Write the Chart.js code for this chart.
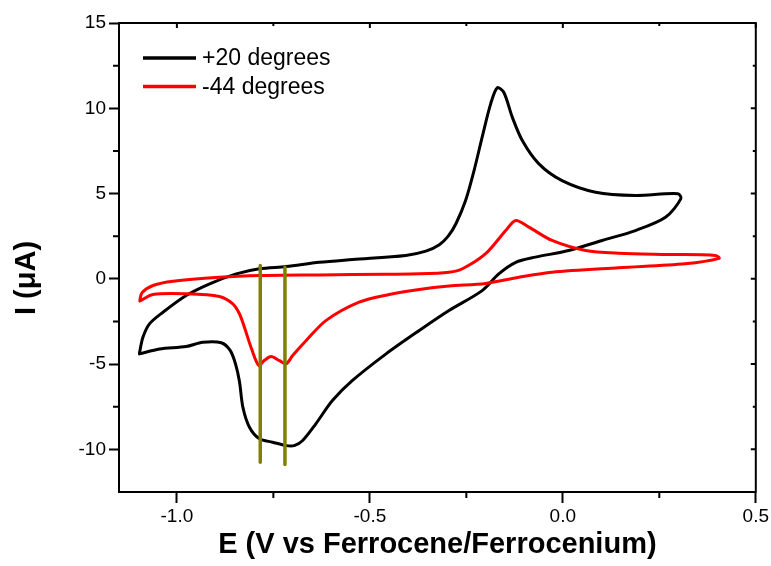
<!DOCTYPE html>
<html>
<head>
<meta charset="utf-8">
<script src="https://cdn.jsdelivr.net/npm/chart.js@4.4.0/dist/chart.umd.min.js"></script>
<style>
  body { margin: 0; background: #fff; }
  canvas { display: block; }
</style>
</head>
<body>
<canvas id="cv" width="771" height="566"></canvas>
<script>
// Values: E (V vs Fc/Fc+) and I (uA), traced around each loop
const blackE = [-1.097, -1.088, -1.071, -1.036, -0.976, -0.915, -0.846, -0.786, -0.717, -0.631, -0.545, -0.407, -0.355,
  -0.320, -0.297, -0.277, -0.252, -0.230, -0.209, -0.187, -0.170, -0.153, -0.131, -0.105, -0.062, -0.002, 0.085, 0.188,
  0.298, 0.306, 0.266, 0.188, 0.102, 0.015, -0.071, -0.122, -0.166, -0.209, -0.295, -0.372, -0.458, -0.545, -0.597,
  -0.640, -0.674, -0.696, -0.717, -0.752, -0.786, -0.812, -0.829, -0.838, -0.848, -0.862, -0.885, -0.933, -0.976, -1.045, -1.097];
const blackI = [-4.35, -3.43, -2.64, -1.96, -0.98, -0.29, 0.29, 0.59, 0.72, 0.97, 1.13, 1.37, 1.62,
  2.00, 2.50, 3.23, 4.59, 6.35, 8.31, 10.26, 11.20, 10.94, 9.48, 8.11, 6.74, 5.76, 5.08, 4.89,
  4.99, 4.70, 3.61, 2.83, 2.25, 1.66, 1.27, 0.97, 0.29, -0.69, -1.86, -3.03, -4.40, -5.96, -7.14,
  -8.50, -9.48, -9.78, -9.78, -9.58, -9.38, -8.70, -7.53, -6.00, -5.00, -4.20, -3.75, -3.72, -3.97, -4.11, -4.40];

const redE = [-1.096, -1.090, -1.062, -1.010, -0.890, -0.786, -0.631, -0.459, -0.372, -0.295, -0.260, -0.200, -0.148,
  -0.122, -0.088, -0.028, 0.059, 0.145, 0.274, 0.395, 0.405, 0.317, 0.145, -0.028, -0.114, -0.200, -0.295, -0.372,
  -0.450, -0.528, -0.614, -0.665, -0.700, -0.717, -0.734, -0.756, -0.773, -0.788, -0.808, -0.825, -0.838, -0.855,
  -0.890, -0.976, -1.062, -1.096];
const redI = [-1.25, -0.80, -0.39, -0.14, 0.09, 0.19, 0.23, 0.27, 0.29, 0.39, 0.59, 1.47, 2.83,
  3.42, 3.03, 2.25, 1.66, 1.50, 1.43, 1.37, 1.20, 0.88, 0.65, 0.39, 0.09, -0.27, -0.42, -0.62,
  -0.92, -1.37, -2.45, -3.62, -4.50, -4.99, -4.80, -4.56, -4.78, -5.08, -4.01, -2.84, -2.05, -1.47,
  -1.04, -0.88, -0.92, -1.30];

// Two vertical marker lines at the reduction peaks
const markE = [-0.784, -0.720];
const markTop = [0.78, 0.68];
const markBottom = [-10.76, -10.89];

const seriesLabels = ['+20 degrees', '-44 degrees'];
const xTicks = [-1.0, -0.5, 0.0, 0.5];
const yTicks = [-10, -5, 0, 5, 10, 15];
const xMinor = [-0.75, -0.25, 0.25];
const yMinor = [-7.5, -2.5, 2.5, 7.5, 12.5];

const FONT = 'Arial, "Liberation Sans", sans-serif';

function toPoints(xs, ys) {
  return xs.map((x, i) => ({ x: x, y: ys[i] }));
}

// Box frame, minor ticks and the inward mirror ticks
const framePlugin = {
  id: 'frame',
  afterDraw(chart) {
    const { ctx, chartArea: a, scales: { x, y } } = chart;
    ctx.save();
    ctx.strokeStyle = '#000';
    ctx.lineWidth = 2;
    ctx.strokeRect(a.left, a.top, a.right - a.left, a.bottom - a.top);
    ctx.beginPath();
    xMinor.forEach(v => {
      const px = x.getPixelForValue(v);
      ctx.moveTo(px, a.bottom); ctx.lineTo(px, a.bottom + 6);
      ctx.moveTo(px, a.top); ctx.lineTo(px, a.top + 3);
    });
    xTicks.forEach(v => {
      const px = x.getPixelForValue(v);
      ctx.moveTo(px, a.top); ctx.lineTo(px, a.top + 5);
    });
    yMinor.forEach(v => {
      const py = y.getPixelForValue(v);
      ctx.moveTo(a.left, py); ctx.lineTo(a.left - 6, py);
      ctx.moveTo(a.right, py); ctx.lineTo(a.right - 3, py);
    });
    yTicks.forEach(v => {
      const py = y.getPixelForValue(v);
      ctx.moveTo(a.right, py); ctx.lineTo(a.right - 5, py);
    });
    ctx.stroke();

    // y axis title, centred on I = 0 like the original
    ctx.fillStyle = '#000';
    ctx.font = 'bold 29px ' + FONT;
    ctx.textAlign = 'center';
    ctx.textBaseline = 'middle';
    ctx.translate(27, 278);
    ctx.rotate(-Math.PI / 2);
    ctx.fillText('I (\u03bcA)', 0, 0);
    ctx.restore();
  }
};

// Legend inside the plot, top-left
const legendPlugin = {
  id: 'insideLegend',
  afterDraw(chart) {
    const ctx = chart.ctx;
    ctx.save();
    ctx.font = '23px ' + FONT;
    ctx.textBaseline = 'middle';
    ctx.fillStyle = '#000';
    ctx.lineWidth = 3.5;
    [0, 1].forEach(i => {
      const ds = chart.data.datasets[i];
      const yy = 58 + i * 28.5;
      ctx.strokeStyle = ds.borderColor;
      ctx.beginPath();
      ctx.moveTo(143, yy); ctx.lineTo(196, yy);
      ctx.stroke();
      ctx.fillText(ds.label, 202, yy + 1);
    });
    ctx.restore();
  }
};

const olive = '#808000';

new Chart(document.getElementById('cv'), {
  type: 'scatter',
  data: {
    datasets: [
      { label: seriesLabels[0], data: toPoints(blackE, blackI), borderColor: '#000', borderWidth: 3, order: 2 },
      { label: seriesLabels[1], data: toPoints(redE, redI), borderColor: '#ff0000', borderWidth: 3, order: 1 },
      { label: 'mark1', data: toPoints([markE[0], markE[0]], [markTop[0], markBottom[0]]), borderColor: olive, borderWidth: 3.5, tension: 0, order: 0 },
      { label: 'mark2', data: toPoints([markE[1], markE[1]], [markTop[1], markBottom[1]]), borderColor: olive, borderWidth: 3.5, tension: 0, order: 0 }
    ]
  },
  options: {
    responsive: false,
    animation: false,
    devicePixelRatio: 1,
    showLine: true,
    elements: {
      point: { radius: 0, hoverRadius: 0 },
      line: { tension: 0.3, borderCapStyle: 'round', borderJoinStyle: 'round' }
    },
    layout: { padding: { left: 0, right: 14, top: 23, bottom: 0 } },
    plugins: { legend: { display: false }, tooltip: { enabled: false } },
    scales: {
      x: {
        type: 'linear',
        min: -1.15,
        max: 0.5,
        afterBuildTicks: s => { s.ticks = xTicks.map(v => ({ value: v })); },
        afterFit: s => { s.height = 74; },
        grid: { drawOnChartArea: false, drawTicks: true, tickLength: 11, tickWidth: 2, tickColor: '#000' },
        border: { display: true, color: '#000', width: 2 },
        ticks: { color: '#000', font: { family: FONT, size: 19 }, padding: 2, autoSkip: false, maxRotation: 0,
          callback: v => Number(v).toFixed(1) },
        title: { display: true, text: 'E (V vs Ferrocene/Ferrocenium)', color: '#000',
          font: { family: FONT, size: 29, weight: 'bold' }, padding: { top: 0, bottom: 4 } }
      },
      y: {
        type: 'linear',
        min: -12.5,
        max: 15,
        afterBuildTicks: s => { s.ticks = yTicks.map(v => ({ value: v })); },
        afterFit: s => { s.width = 119; },
        grid: { drawOnChartArea: false, drawTicks: true, tickLength: 10, tickWidth: 2, tickColor: '#000' },
        border: { display: true, color: '#000', width: 2 },
        ticks: { color: '#000', font: { family: FONT, size: 19 }, padding: 3, autoSkip: false,
          callback: v => String(v) }
      }
    }
  },
  plugins: [framePlugin, legendPlugin]
});
</script>
</body>
</html>
